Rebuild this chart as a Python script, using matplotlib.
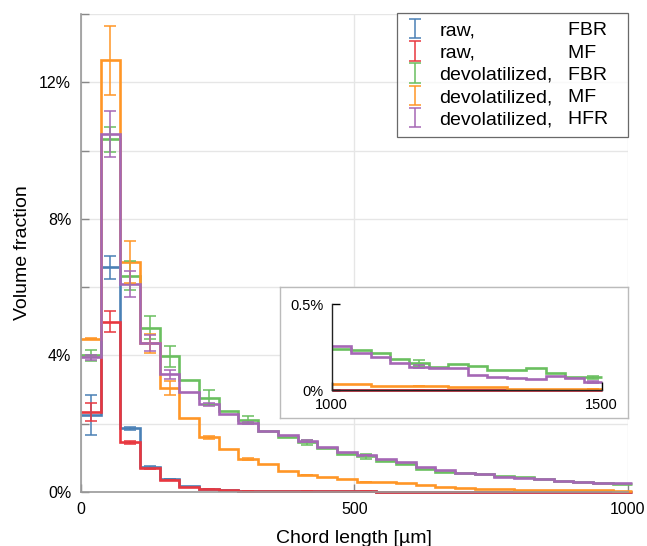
import numpy as np
import matplotlib
matplotlib.use('Agg')
import matplotlib.pyplot as plt
from matplotlib.lines import Line2D

plt.rcParams['font.family'] = ['Liberation Sans', 'DejaVu Sans']

# Гистограммы длин хорд, бины по 36 мкм (0..1008 мкм)
bin_edges = np.arange(0, 29) * 36.0
# хвост распределения для врезки 1000..1500 мкм
tail_edges = np.append(np.arange(1000, 1500, 36), 1500)

# объёмная доля, %
raw_fbr = [2.25, 6.58, 1.86, 0.74, 0.38, 0.17, 0.10, 0.06, 0.04, 0.03, 0.025, 0.02, 0.02, 0.015,
           0.015, 0.01, 0.01, 0.01, 0.01, 0.008, 0.008, 0.006, 0.006, 0.005, 0.005, 0.004, 0.004, 0.004]
raw_mf = [2.35, 4.99, 1.45, 0.69, 0.35, 0.16, 0.10, 0.06, 0.04, 0.03, 0.025, 0.02, 0.02, 0.015,
          0.015, 0.012, 0.01, 0.01, 0.01, 0.008, 0.008, 0.006, 0.006, 0.005, 0.005, 0.004, 0.004, 0.004]
dev_fbr = [4.00, 10.33, 6.34, 4.81, 3.97, 3.29, 2.76, 2.37, 2.12, 1.78, 1.62, 1.45, 1.28, 1.12,
           1.04, 0.92, 0.81, 0.68, 0.59, 0.55, 0.52, 0.48, 0.43, 0.39, 0.33, 0.29, 0.27, 0.23]
dev_mf = [4.49, 12.64, 6.74, 4.35, 3.05, 2.17, 1.60, 1.25, 0.98, 0.82, 0.62, 0.50, 0.43, 0.37,
          0.30, 0.28, 0.25, 0.20, 0.16, 0.13, 0.10, 0.08, 0.07, 0.06, 0.06, 0.05, 0.045, 0.04]
dev_hfr = [3.95, 10.49, 6.09, 4.36, 3.45, 2.93, 2.57, 2.28, 2.02, 1.79, 1.66, 1.49, 1.32, 1.18,
           1.08, 0.96, 0.88, 0.74, 0.64, 0.57, 0.52, 0.45, 0.40, 0.37, 0.33, 0.29, 0.27, 0.26]

# погрешности в выбранных бинах
err_bins = [0, 1, 2, 3, 4, 6, 8, 11, 14]
raw_fbr_err = [0.58, 0.33, 0.03, 0.03, 0.01, 0.0, 0.0, 0.0, 0.0]
raw_mf_err = [0.26, 0.30, 0.03, 0.02, 0.01, 0.0, 0.0, 0.0, 0.0]
dev_fbr_err = [0.15, 0.37, 0.43, 0.34, 0.30, 0.22, 0.11, 0.07, 0.06]
dev_mf_err = [0.02, 1.00, 0.62, 0.28, 0.20, 0.05, 0.03, 0.01, 0.0]
dev_hfr_err = [0.07, 0.67, 0.38, 0.24, 0.13, 0.04, 0.04, 0.03, 0.01]

# хвост (врезка)
raw_fbr_tail = [0.001, 0.001, 0.001, 0.001, 0.001, 0.001, 0.001, 0.001, 0.001, 0.001, 0.001, 0.001, 0.001, 0.001]
raw_mf_tail = [0.002, 0.002, 0.002, 0.002, 0.002, 0.002, 0.002, 0.002, 0.002, 0.002, 0.002, 0.002, 0.002, 0.002]
dev_fbr_tail = [0.238, 0.233, 0.213, 0.18, 0.155, 0.136, 0.149, 0.141, 0.116, 0.116, 0.126, 0.10, 0.074, 0.074]
dev_mf_tail = [0.035, 0.035, 0.025, 0.025, 0.025, 0.025, 0.016, 0.016, 0.016, 0.006, 0.006, 0.006, 0.006, 0.006]
dev_hfr_tail = [0.258, 0.213, 0.19, 0.159, 0.136, 0.126, 0.126, 0.087, 0.078, 0.072, 0.064, 0.083, 0.068, 0.048]

tail_err_bins = [4, 13]
raw_fbr_tail_err = [0.0, 0.0]
raw_mf_tail_err = [0.0, 0.0]
dev_fbr_tail_err = [0.017, 0.01]
dev_mf_tail_err = [0.0, 0.0]
dev_hfr_tail_err = [0.01, 0.005]

state_labels = ['raw,', 'raw,', 'devolatilized,', 'devolatilized,', 'devolatilized,']
reactor_labels = ['FBR', 'MF', 'FBR', 'MF', 'HFR']
colors = ['#4a80b5', '#e8373f', '#6abf5f', '#ff9626', '#a567b5']

series = [
    (raw_fbr, raw_fbr_err, raw_fbr_tail, raw_fbr_tail_err),
    (raw_mf, raw_mf_err, raw_mf_tail, raw_mf_tail_err),
    (dev_fbr, dev_fbr_err, dev_fbr_tail, dev_fbr_tail_err),
    (dev_mf, dev_mf_err, dev_mf_tail, dev_mf_tail_err),
    (dev_hfr, dev_hfr_err, dev_hfr_tail, dev_hfr_tail_err),
]

fig = plt.figure(figsize=(6.47, 5.46), dpi=100)
ax = fig.add_axes([0.125, 0.0989, 0.8456, 0.8755])

centers = (bin_edges[:-1] + bin_edges[1:]) / 2
tail_centers = (tail_edges[:-1] + tail_edges[1:]) / 2

handles = []
for (vals, errs, tail, tail_errs), col in zip(series, colors):
    vals = np.array(vals)
    ax.stairs(vals, bin_edges, baseline=None, color=col, lw=1.9, clip_on=False)
    h = ax.errorbar(centers[err_bins], vals[err_bins], yerr=errs, fmt='none', ecolor=col,
                    elinewidth=1.1, capsize=4.3, capthick=1.1, clip_on=False)
    handles.append(h)

ax.set_xlim(0, 1000)
ax.set_ylim(0, 14)
ax.set_xticks([0, 500, 1000])
yt = np.arange(0, 15, 2)
ax.set_yticks(yt)
ax.set_yticklabels([f'{v}%' if v % 4 == 0 else '' for v in yt])
ax.tick_params(direction='in', length=6, width=1, color='#888888', labelsize=11.5, pad=7)
ax.grid(True, color='#e6e6e6', lw=1)
ax.set_axisbelow(True)
for s in ['top', 'right']:
    ax.spines[s].set_visible(False)
for s in ['left', 'bottom']:
    ax.spines[s].set_color('#999999')
    ax.spines[s].set_linewidth(1.2)

ax.set_xlabel('Chord length [µm]', fontsize=14)
ax.set_ylabel('Volume fraction', fontsize=14)
ax.xaxis.set_label_coords(0.5, -0.079)
ax.yaxis.set_label_coords(-0.091, 0.5)

# легенда: два столбца, второй без маркеров
blank = [Line2D([], [], linestyle='none') for _ in range(5)]
leg = ax.legend(handles + blank, state_labels + [r + '  ' for r in reactor_labels],
                ncol=2, loc='upper right', bbox_to_anchor=(1, 1.002), borderaxespad=0,
                handlelength=1.0, handletextpad=0.75, columnspacing=-0.95, labelspacing=0.24,
                fontsize=14, fancybox=False, edgecolor='#444444', borderpad=0.45)
leg.get_frame().set_linewidth(0.9)

# рамка врезки
box = fig.add_axes([0.4328, 0.2339, 0.5378, 0.241])
box.set_xticks([])
box.set_yticks([])
for s in box.spines.values():
    s.set_color('#bbbbbb')
    s.set_linewidth(1)

ins = fig.add_axes([0.5127, 0.2857, 0.4173, 0.1575])
ins.patch.set_alpha(0)
for (vals, errs, tail, tail_errs), col in zip(series, colors):
    tail = np.array(tail)
    ins.stairs(tail, tail_edges, baseline=None, color=col, lw=1.9, clip_on=False)
    ins.errorbar(tail_centers[tail_err_bins], tail[tail_err_bins], yerr=tail_errs, fmt='none',
                 ecolor=col, elinewidth=1.1, capsize=4.3, capthick=1.1, clip_on=False)
ins.set_xlim(1000, 1500)
ins.set_ylim(0, 0.5)
ins.set_xticks([1000, 1500])
ins.set_yticks([0, 0.5])
ins.set_yticklabels(['0%', '0.5%'])
ins.tick_params(direction='in', length=6, width=1, color='k', labelsize=10.5, pad=6)
for s in ['top', 'right']:
    ins.spines[s].set_visible(False)
for s in ['left', 'bottom']:
    ins.spines[s].set_color('#222222')
    ins.spines[s].set_linewidth(1)

fig.savefig('out.png', dpi=100)
